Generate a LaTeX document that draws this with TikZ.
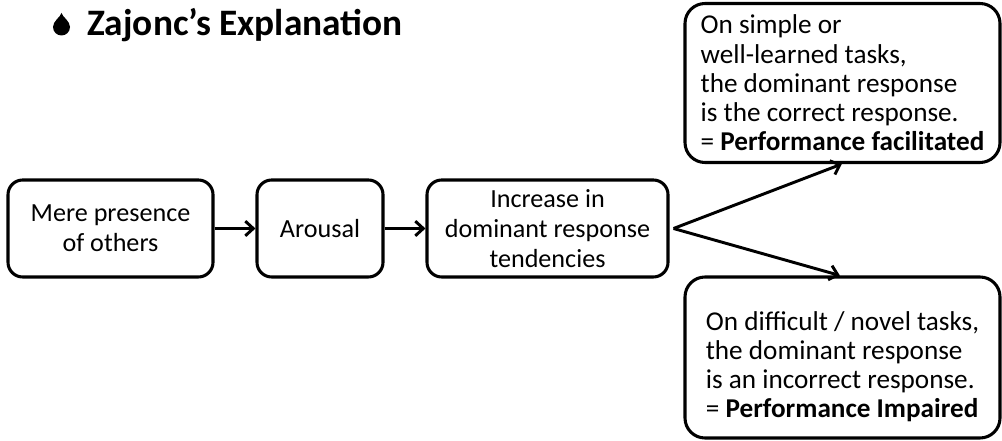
\documentclass[tikz,border=0pt]{standalone}
\usepackage{fontspec}
\setmainfont{Carlito}
\usetikzlibrary{arrows.meta,calc}
\tikzset{
  smallbox/.style={draw=black, line width=2.3pt, rounded corners=11pt, minimum height=72.75pt,
    align=center, inner sep=2pt, font=\fontsize{19.6}{22.5}\selectfont},
  bigbox/.style={draw=black, line width=2.3pt, rounded corners=15pt, minimum width=236.25pt,
    align=left, inner sep=2pt, font=\fontsize{20.4}{21.9}\selectfont},
  conn/.style={line width=2.2pt, -{Straight Barb[length=6pt,width=11pt,line width=2.2pt]}}
}
\begin{document}
\begin{tikzpicture}[x=0.75pt,y=-0.75pt]
\useasboundingbox (0,0) rectangle (1002,441);
% title drop
\fill (61.5,13) .. controls (62.5,17) and (70,21) .. (70,27)
  .. controls (70,31.7) and (66.2,35.5) .. (61.5,35.5)
  .. controls (56.8,35.5) and (53,31.7) .. (53,27)
  .. controls (53,21) and (60.5,17) .. cycle;
\node[anchor=base west, inner sep=0, font=\bfseries\fontsize{28}{32}\selectfont] (title) at (87,36) {Zajonc’s Explanation};
% boxes
\node[smallbox, minimum width=153.75pt] (mere) at (110.5,228.5) {Mere presence\\of others};
\node[smallbox, minimum width=94.5pt] (arousal) at (320,228.5) {Arousal};
\node[smallbox, minimum width=180.75pt] (incr) at (547.5,228.5) {Increase in\\dominant response\\tendencies};
\node[bigbox, minimum height=119.25pt] (top) at (842.5,83) {On simple or\\well-learned tasks,\\the dominant response\\is the correct response.\\= \textbf{Performance facilitated}};
\node[bigbox, minimum height=120.75pt] (bot) at (842.5,357.5) {\rule{0pt}{28pt}On difficult / novel tasks,\\the dominant response\\is an incorrect response.\\= \textbf{Performance Impaired}};
% connectors
\coordinate (fork) at ($(incr.east)+(4,0)$);
\draw[conn] (mere) -- (arousal);
\draw[conn] (arousal) -- (incr);
\draw[conn] (fork) -- ([xshift=-0.5pt]top.south);
\draw[conn] (fork) -- ([xshift=-2pt]bot.north);
\end{tikzpicture}
\end{document}
